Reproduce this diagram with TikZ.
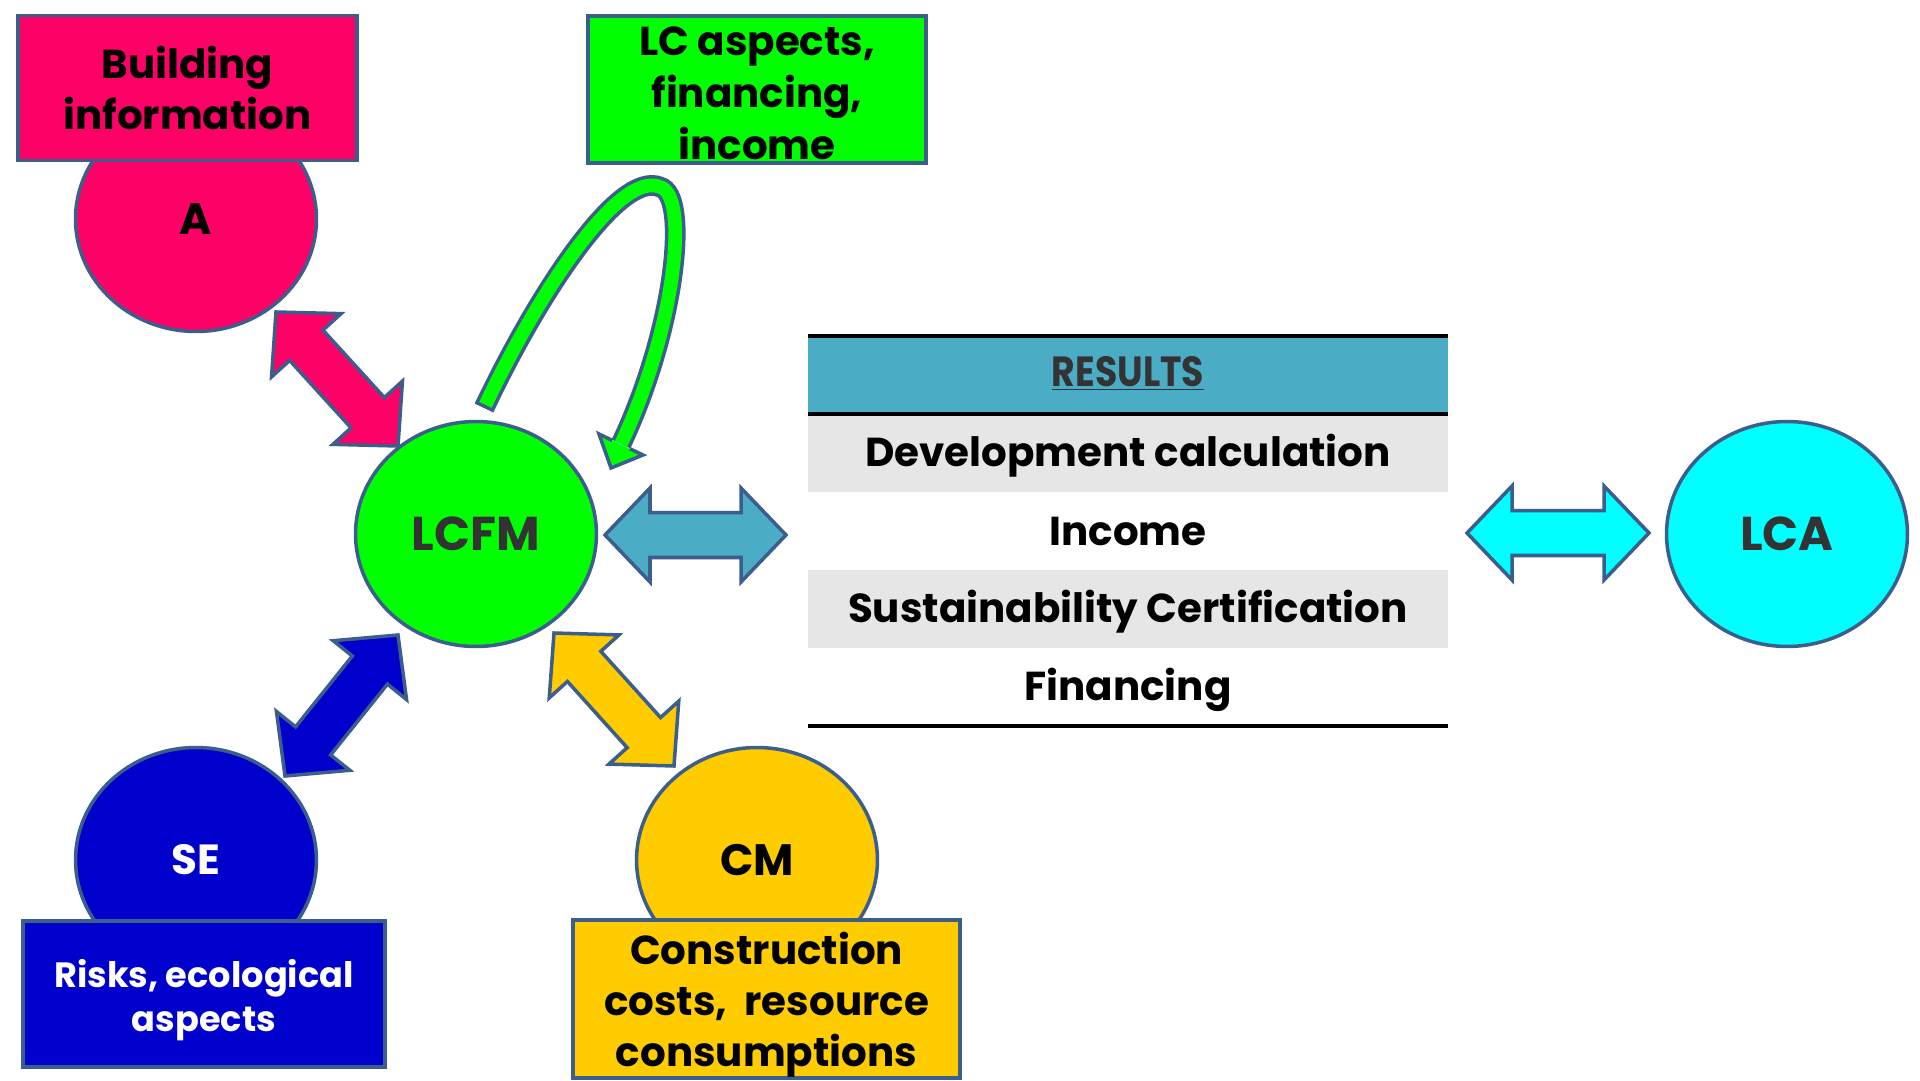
\documentclass[tikz,border=0pt]{standalone}
\usepackage{fontspec}
\setmainfont{Poppins}
\usepackage{tikz}
\usetikzlibrary{calc}
\usetikzlibrary{shapes.geometric}

\definecolor{rim}{HTML}{3B5E8C}
\definecolor{apink}{HTML}{FF0066}
\definecolor{lcgreen}{HTML}{00FF00}
\definecolor{seblue}{HTML}{0000CC}
\definecolor{cmyellow}{HTML}{FFCC00}
\definecolor{lcacyan}{HTML}{00FFFF}
\definecolor{resblue}{HTML}{4BACC6}
\definecolor{rowgray}{HTML}{E6E6E6}
\definecolor{txtgray}{HTML}{333333}

\tikzset{
  role/.style={ellipse, draw=rim, line width=2pt, minimum width=4.82cm,
    minimum height=4.5cm, inner sep=0pt, font=\bfseries\fontsize{25}{30}\selectfont},
  infobox/.style={rectangle, draw=rim, line width=2pt, align=center,
    inner sep=0pt, font=\bfseries\fontsize{23}{28}\selectfont},
  blockarrow/.style={draw=rim, line width=2pt, line join=miter},
  rowtext/.style={font=\bfseries\fontsize{23}{28}\selectfont},
  rule/.style={line width=2.3pt, black}
}

\newcommand{\arrhead}{0.9cm}
\newcommand{\arrwing}{0.94cm}
\newcommand{\arrshaft}{0.45cm}
\newcommand{\dblarrow}[3]{%
  \draw[blockarrow, fill=#1] (#2)
    -- ($(#2)!\arrhead!(#3)!\arrwing!90:(#3)$)
    -- ($(#2)!\arrhead!(#3)!\arrshaft!90:(#3)$)
    -- ($(#3)!\arrhead!(#2)!\arrshaft!-90:(#2)$)
    -- ($(#3)!\arrhead!(#2)!\arrwing!-90:(#2)$)
    -- (#3)
    -- ($(#3)!\arrhead!(#2)!\arrwing!90:(#2)$)
    -- ($(#3)!\arrhead!(#2)!\arrshaft!90:(#2)$)
    -- ($(#2)!\arrhead!(#3)!\arrshaft!-90:(#3)$)
    -- ($(#2)!\arrhead!(#3)!\arrwing!-90:(#3)$)
    -- cycle;}

\begin{document}
\begin{tikzpicture}[x=0.02cm, y=-0.02cm]
\useasboundingbox (0,0) rectangle (1920,1081);

\node[role, fill=apink] (A) at (196,219) {A};
\node[infobox, fill=apink, minimum width=6.78cm, minimum height=2.9cm,
  font=\bfseries\fontsize{23}{29.5}\selectfont] (build) at (187.5,88) {Building\\information};

\node[role, fill=seblue, text=white, font=\bfseries\fontsize{24}{28}\selectfont] (SE) at (196,860) {SE};
\node[infobox, fill=seblue, text=white, minimum width=7.24cm, minimum height=2.92cm,
  font=\bfseries\fontsize{20}{25}\selectfont] (risk) at (204,994) {};
\node[text=white, align=center, font=\bfseries\fontsize{20}{25}\selectfont] (risktext) at (204,1000) {Risks, ecological\\aspects};

\node[role, fill=cmyellow] (CM) at (757,860) {CM};
\node[infobox, fill=cmyellow, minimum width=7.74cm, minimum height=3.16cm] (cost) at (766.5,999) {};
\node[align=center, font=\bfseries\fontsize{23}{29}\selectfont] (costtext) at (766.5,1005) {Construction\\costs, \ resource\\consumptions};

\node[role, fill=lcgreen, text=txtgray, font=\bfseries\fontsize{27}{30}\selectfont] (LCFM) at (476,534) {LCFM};
\node[role, fill=lcacyan, text=txtgray, font=\bfseries\fontsize{27}{30}\selectfont] (LCA) at (1787,534) {LCA};

\node[infobox, fill=lcgreen, minimum width=6.76cm, minimum height=2.94cm] (aspects) at (757,89.5) {};
\node[align=center, font=\bfseries\fontsize{23}{29.5}\selectfont] (aspectstext) at (757,93.5) {LC aspects,\\financing,\\income};

\coordinate (pa1) at (276,312);
\coordinate (pa2) at (398,446);
\coordinate (se1) at (285,776);
\coordinate (se2) at (398,635);
\coordinate (cm1) at (554,633);
\coordinate (cm2) at (674,766);
\coordinate (re1) at (605,535);
\coordinate (re2) at (786,535);
\coordinate (lc1) at (1467,533);
\coordinate (lc2) at (1649,533);
\dblarrow{apink}{pa1}{pa2}
\dblarrow{seblue}{se1}{se2}
\dblarrow{cmyellow}{cm1}{cm2}
\dblarrow{resblue}{re1}{re2}
\dblarrow{lcacyan}{lc1}{lc2}

\coordinate (loop0) at (484,408);
\coordinate (loop1) at (621,444);
\coordinate (hb1) at (599,434);
\coordinate (hb2) at (643,455);
\coordinate (htip) at (611,468);
\draw[rim, line width=11.8pt] (loop0) .. controls (540,290) and (620,170) .. (660,187)
  .. controls (690,195) and (675,330) .. (loop1);
\draw[lcgreen, line width=7.8pt, shorten <=2pt] (loop0) .. controls (540,290) and (620,170) .. (660,187)
  .. controls (690,195) and (675,330) .. (loop1);
\fill[lcgreen] (hb1) -- (htip) -- (hb2) -- cycle;
\draw[blockarrow] ($(hb1)!0.3!(hb2)$) -- (hb1) -- (htip) -- (hb2) -- ($(hb2)!0.3!(hb1)$);

\fill[resblue] (808,336) rectangle (1448,414);
\fill[rowgray] (808,414) rectangle (1448,492);
\fill[rowgray] (808,570) rectangle (1448,648);
\draw[rule] (808,336) -- (1448,336);
\draw[rule] (808,414) -- (1448,414);
\draw[rule] (808,726) -- (1448,726);
\node[text=txtgray, font=\bfseries\fontsize{24}{28}\selectfont] (res) at (1128,373) {\scalebox{0.86}[1]{\underline{RESULTS}}};
\node[rowtext] (dev) at (1128,456) {Development calculation};
\node[rowtext] (inc) at (1128,531) {Income};
\node[rowtext] (sus) at (1128,612) {Sustainability Certification};
\node[rowtext] (fin) at (1128,690) {Financing};
\end{tikzpicture}
\end{document}
